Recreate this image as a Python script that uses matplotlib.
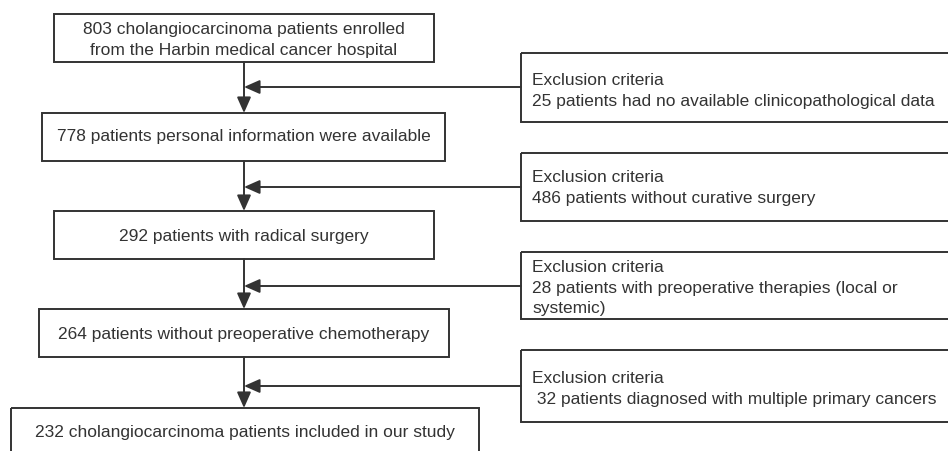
import matplotlib
matplotlib.use('Agg')
import matplotlib.pyplot as plt
from matplotlib.patches import Rectangle

plt.rcParams['font.family'] = ['Liberation Sans', 'DejaVu Sans']

# Teksty schematu
main_labels = [
    "803 cholangiocarcinoma patients enrolled\nfrom the Harbin medical cancer hospital",
    "778 patients personal information were available",
    "292 patients with radical surgery",
    "264 patients without preoperative chemotherapy",
    "232 cholangiocarcinoma patients included in our study",
]
excl_labels = [
    "Exclusion criteria\n25 patients had no available clinicopathological data",
    "Exclusion criteria\n486 patients without curative surgery",
    "Exclusion criteria\n28 patients with preoperative therapies (local or\nsystemic)",
    "Exclusion criteria\n 32 patients diagnosed with multiple primary cancers",
]

# Uklad (piksele): lewo, gora, prawo, dol
main_boxes = [(54, 14, 434, 62), (42, 113, 445, 161), (54, 211, 434, 259),
              (39, 309, 449, 357), (11, 408, 479, 470)]
main_text_y = [40, 137, 236, 334, 432]
excl_boxes = [(521, 53, 960, 122), (521, 153, 960, 221),
              (521, 252, 960, 319), (521, 350, 960, 422)]
excl_text_y = [91, 188, 288, 389]
side_y = [87, 187, 286, 386]
cx = 244

col = '#333333'
fs = 12.5
lw = 1.4

fig = plt.figure(figsize=(9.48, 4.51), dpi=100)
ax = fig.add_axes([0, 0, 1, 1])
ax.set_xlim(0, 948)
ax.set_ylim(451, 0)
ax.axis('off')

def box(b):
    x0, y0, x1, y1 = b
    ax.add_patch(Rectangle((x0, y0), x1 - x0, y1 - y0, fill=False,
                           edgecolor=col, linewidth=lw, clip_on=True))

for b, t, ty in zip(main_boxes, main_labels, main_text_y):
    box(b)
    ax.text((b[0] + b[2]) / 2, ty, t, ha='center', va='center',
            fontsize=fs, color=col, linespacing=1.45)

for b, t, ty in zip(excl_boxes, excl_labels, excl_text_y):
    box(b)
    ax.text(532, ty, t, ha='left', va='center', fontsize=fs,
            color=col, linespacing=1.5)

arrow = dict(arrowstyle='-|>,head_length=0.95,head_width=0.42',
             color=col, lw=lw, shrinkA=0, shrinkB=0, mutation_scale=10)

# strzalki pionowe
for i in range(len(main_boxes) - 1):
    ax.annotate('', xy=(cx, main_boxes[i + 1][1]), xytext=(cx, main_boxes[i][3]),
                arrowprops=arrow)

# strzalki boczne
for b, y in zip(excl_boxes, side_y):
    ax.annotate('', xy=(cx, y), xytext=(b[0], y), arrowprops=arrow)

fig.savefig('out.png', dpi=100)
